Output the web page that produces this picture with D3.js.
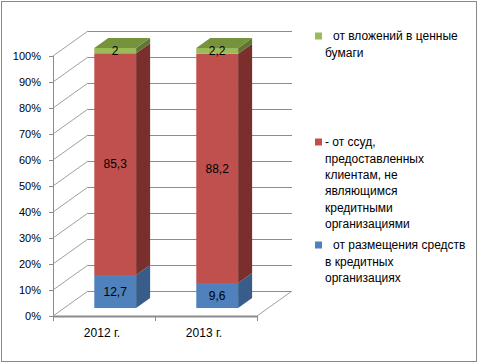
<!DOCTYPE html>
<html>
<head>
<meta charset="utf-8">
<script src="https://cdn.jsdelivr.net/npm/d3@7"></script>
<style>
  body { margin: 0; background: #fff; }
  text { font-family: "Liberation Sans", Arial, sans-serif; }
</style>
</head>
<body>
<div id="chart"></div>
<script>
// data
var categories = ["2012 г.", "2013 г."];
var seriesNames = [
  "от размещения средств в кредитных организациях",
  "- от ссуд, предоставленных клиентам, не являющимся кредитными организациями",
  "от вложений в ценные бумаги"
];
var placement = [12.7, 9.6];
var loans = [85.3, 88.2];
var securities = [2, 2.2];
var valueLabels = [["12,7", "9,6"], ["85,3", "88,2"], ["2", "2,2"]];
var yTicks = [0, 10, 20, 30, 40, 50, 60, 70, 80, 90, 100];

var legendLines = [
  ["от вложений в ценные", "бумаги"],
  ["- от ссуд,", "предоставленных", "клиентам, не", "являющимся", "кредитными", "организациями"],
  ["от размещения средств", "в кредитных", "организациях"]
];

var colors = [
  { front: "#4F81BD", side: "#385D8A", top: "#3B6597" },
  { front: "#C0504D", side: "#7B2F2D", top: "#9A3D3B" },
  { front: "#9BBB59", side: "#5F7631", top: "#76923C" }
];

var W = 481, H = 364;
var svg = d3.select("#chart").append("svg")
  .attr("width", W).attr("height", H);

// outer border
svg.append("rect")
  .attr("x", 1.5).attr("y", 1.5)
  .attr("width", 475).attr("height", 360)
  .attr("fill", "none").attr("stroke", "#888").attr("stroke-width", 1);

// front plane scales
var x = d3.scaleBand().domain(categories).range([53, 257]);
var y = d3.scaleLinear().domain([0, 100]).range([316, 56]);

// depth projection
var DX = 35, DY = -25;
function proj(px, py, f) { return [px + DX * f, py + DY * f]; }

var grid = svg.append("g");
// back wall gridlines
grid.selectAll(".back").data(yTicks).enter().append("line")
  .attr("x1", function (d) { return proj(53, y(d), 1)[0]; })
  .attr("x2", function (d) { return proj(257, y(d), 1)[0]; })
  .attr("y1", function (d) { return proj(53, y(d), 1)[1] + 0.5; })
  .attr("y2", function (d) { return proj(257, y(d), 1)[1] + 0.5; })
  .attr("stroke", "#8c8c8c");
// side wall diagonals
grid.selectAll(".diag").data(yTicks).enter().append("line")
  .attr("x1", 53).attr("y1", function (d) { return y(d); })
  .attr("x2", function (d) { return proj(53, y(d), 1)[0]; })
  .attr("y2", function (d) { return proj(53, y(d), 1)[1]; })
  .attr("stroke", "#a0a0a0");
// floor right diagonal
grid.append("line")
  .attr("x1", 257).attr("y1", y(0))
  .attr("x2", proj(257, y(0), 1)[0]).attr("y2", proj(257, y(0), 1)[1])
  .attr("stroke", "#a0a0a0");

// bars
var stackData = categories.map(function (c, i) {
  return { cat: c, Placement: placement[i], Loans: loans[i], Securities: securities[i] };
});
var stack = d3.stack().keys(["Placement", "Loans", "Securities"]);
var series = stack(stackData);

var f0 = 0.32, f1 = 0.72;
var barW = x.bandwidth() * 0.41;

function poly(pts) { return pts.map(function (p) { return p.join(","); }).join(" "); }

var bars = svg.append("g");
categories.forEach(function (c, ci) {
  var cx = x(c) + x.bandwidth() / 2;
  var xl = cx - barW / 2, xr = cx + barW / 2;
  series.forEach(function (s, si) {
    var y0 = y(s[ci][0]), y1 = y(s[ci][1]);
    var col = colors[si];
    // front
    bars.append("polygon")
      .attr("points", poly([proj(xl, y0, f0), proj(xr, y0, f0), proj(xr, y1, f0), proj(xl, y1, f0)]))
      .attr("fill", col.front);
    // side
    bars.append("polygon")
      .attr("points", poly([proj(xr, y0, f0), proj(xr, y0, f1), proj(xr, y1, f1), proj(xr, y1, f0)]))
      .attr("fill", col.side);
    // top (only last segment visible)
    if (si === series.length - 1) {
      bars.append("polygon")
        .attr("points", poly([proj(xl, y1, f0), proj(xr, y1, f0), proj(xr, y1, f1), proj(xl, y1, f1)]))
        .attr("fill", col.top);
    }
  });
});

// value labels
categories.forEach(function (c, ci) {
  var cx = x(c) + x.bandwidth() / 2;
  series.forEach(function (s, si) {
    var p = proj(cx, (y(s[ci][0]) + y(s[ci][1])) / 2, f0);
    svg.append("text")
      .attr("x", p[0]).attr("y", p[1])
      .attr("dy", "0.35em")
      .attr("text-anchor", "middle")
      .attr("font-size", 12)
      .attr("fill", "#000")
      .text(valueLabels[si][ci]);
  });
});

// front axis
svg.append("line")
  .attr("x1", 53.5).attr("x2", 53.5).attr("y1", y(100)).attr("y2", y(0) + 4)
  .attr("stroke", "#8c8c8c");
svg.selectAll(".ytick").data(yTicks).enter().append("line")
  .attr("x1", 49).attr("x2", 53)
  .attr("y1", function (d) { return y(d) + 0.5; })
  .attr("y2", function (d) { return y(d) + 0.5; })
  .attr("stroke", "#8c8c8c");
svg.selectAll(".ylab").data(yTicks).enter().append("text")
  .attr("x", 41).attr("y", function (d) { return y(d); })
  .attr("dy", "0.35em")
  .attr("text-anchor", "end")
  .attr("font-size", 11)
  .attr("fill", "#000")
  .text(function (d) { return d + "%"; });

// floor front edge
svg.append("line")
  .attr("x1", 53).attr("x2", 257).attr("y1", y(0) + 0.5).attr("y2", y(0) + 0.5)
  .attr("stroke", "#8c8c8c").attr("stroke-width", 2);
svg.selectAll(".xtick").data([53, 155, 257]).enter().append("line")
  .attr("x1", function (d) { return d + 0.5; }).attr("x2", function (d) { return d + 0.5; })
  .attr("y1", y(0)).attr("y2", y(0) + 5)
  .attr("stroke", "#8c8c8c");
svg.selectAll(".xlab").data(categories).enter().append("text")
  .attr("x", function (d) { return x(d) + x.bandwidth() / 2 - 2; })
  .attr("y", 333).attr("dy", "0.35em")
  .attr("text-anchor", "middle")
  .attr("font-size", 12)
  .attr("fill", "#000")
  .text(function (d) { return d; });

// legend
var legendColors = [colors[2].front, colors[1].front, colors[0].front];
var legendY = [36, 142, 245];
var lineH = 16.4;
legendLines.forEach(function (lines, li) {
  var g = svg.append("g");
  g.append("rect")
    .attr("x", 315).attr("y", legendY[li] - 3.5)
    .attr("width", 7).attr("height", 7)
    .attr("fill", legendColors[li]);
  lines.forEach(function (t, k) {
    var indent = (k === 0 && li !== 1) ? 333 : 325;
    g.append("text")
      .attr("x", indent).attr("y", legendY[li] + k * lineH)
      .attr("dy", "0.35em")
      .attr("font-size", 12)
      .attr("fill", "#000")
      .text(t);
  });
});
</script>
</body>
</html>
